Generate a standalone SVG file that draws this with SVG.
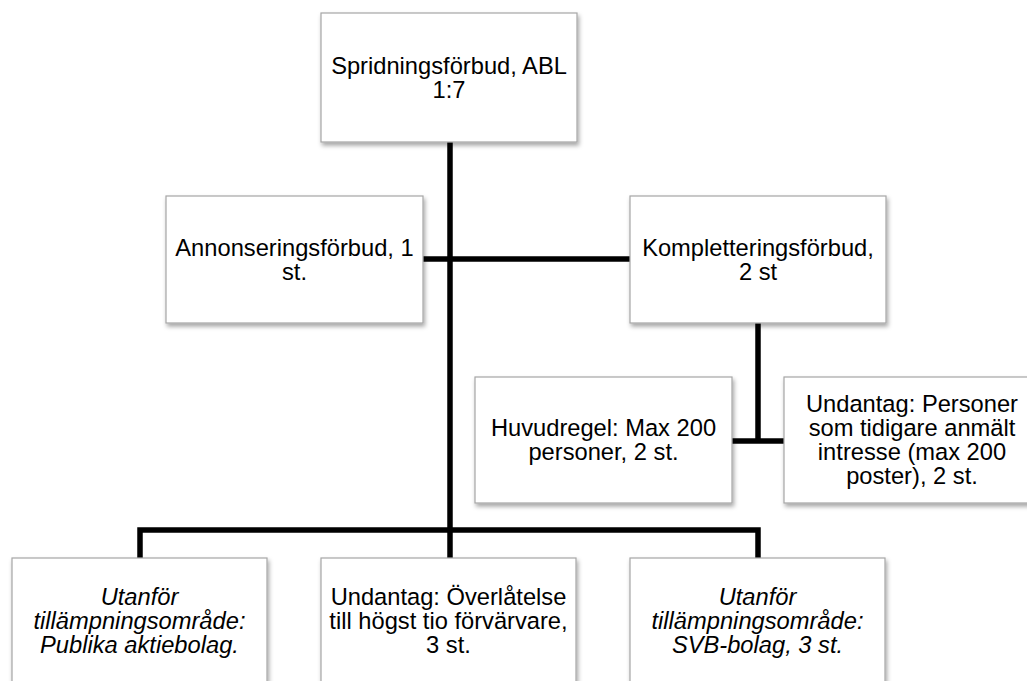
<svg xmlns="http://www.w3.org/2000/svg" width="1027" height="681" viewBox="0 0 1027 681">
<defs>
<filter id="sh" x="-10%" y="-10%" width="125%" height="130%">
<feDropShadow dx="1.5" dy="3" stdDeviation="2" flood-color="#000" flood-opacity="0.35"/>
</filter>
</defs>
<style>
.box{fill:#fff;stroke:#a6a6a6;stroke-width:1.2;filter:url(#sh)}
.t{font-family:"Liberation Sans",Arial,sans-serif;font-size:23.7px;fill:#000;text-anchor:middle}
.i{font-style:italic}
.c{stroke:#000;stroke-width:5.5;fill:none;stroke-linejoin:miter;stroke-linecap:butt}
</style>
<rect width="1027" height="681" fill="#fff"/>
<g id="connectors">
<line class="c" x1="450" y1="142" x2="450" y2="530"/>
<line class="c" x1="423" y1="259" x2="630" y2="259"/>
<line class="c" x1="758" y1="323" x2="758" y2="441"/>
<line class="c" x1="732" y1="441" x2="784" y2="441"/>
<path class="c" d="M140 558 V530 H758 V558"/>
<line class="c" x1="450" y1="530" x2="450" y2="558"/>
</g>
<g id="n-spridning">
<rect class="box" x="321" y="13" width="256" height="129"/>
<text class="t" x="449" y="74">Spridningsförbud, ABL</text>
<text class="t" x="449" y="98">1:7</text>
</g>
<g id="n-annonsering">
<rect class="box" x="166" y="196" width="257" height="127"/>
<text class="t" x="294.5" y="256">Annonseringsförbud, 1</text>
<text class="t" x="294.5" y="280">st.</text>
</g>
<g id="n-komplettering">
<rect class="box" x="630" y="196" width="256" height="127"/>
<text class="t" x="758" y="256">Kompletteringsförbud,</text>
<text class="t" x="758" y="280">2 st</text>
</g>
<g id="n-huvudregel">
<rect class="box" x="475" y="377" width="257" height="126"/>
<text class="t" x="603.5" y="436">Huvudregel: Max 200</text>
<text class="t" x="603.5" y="460">personer, 2 st.</text>
</g>
<g id="n-undantag-personer">
<rect class="box" x="784" y="377" width="256" height="126"/>
<text class="t" x="912" y="412">Undantag: Personer</text>
<text class="t" x="912" y="436">som tidigare anmält</text>
<text class="t" x="912" y="460">intresse (max 200</text>
<text class="t" x="912" y="484">poster), 2 st.</text>
</g>
<g id="n-publika">
<rect class="box" x="12" y="558" width="255" height="130"/>
<text class="t i" x="139.5" y="605">Utanför</text>
<text class="t i" x="139.5" y="629">tillämpningsområde:</text>
<text class="t i" x="139.5" y="653">Publika aktiebolag.</text>
</g>
<g id="n-overlatelse">
<rect class="box" x="321" y="558" width="255" height="130"/>
<text class="t" x="448.5" y="605">Undantag: Överlåtelse</text>
<text class="t" x="448.5" y="629">till högst tio förvärvare,</text>
<text class="t" x="448.5" y="653">3 st.</text>
</g>
<g id="n-svb">
<rect class="box" x="630" y="558" width="255" height="130"/>
<text class="t i" x="757.5" y="605">Utanför</text>
<text class="t i" x="757.5" y="629">tillämpningsområde:</text>
<text class="t i" x="757.5" y="653">SVB-bolag, 3 st.</text>
</g>
</svg>
